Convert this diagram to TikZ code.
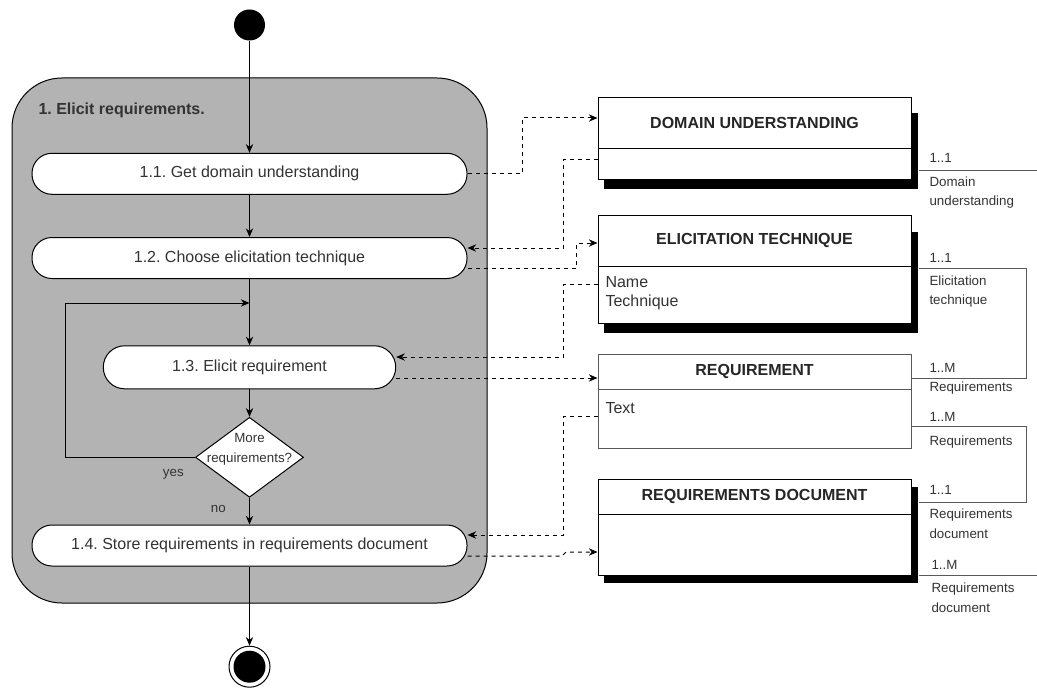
\documentclass[tikz,border=0pt]{standalone}
\usepackage{fontspec}
\setmainfont{Liberation Sans}
\usetikzlibrary{arrows.meta, shapes.geometric}
\definecolor{grpfill}{HTML}{B3B3B3}
\definecolor{txt}{HTML}{333333}
\frenchspacing

\begin{document}
\begin{tikzpicture}[x=0.75pt, y=-0.75pt, line width=0.75pt,
    act/.style={draw, fill=white, rounded corners=15pt, minimum width=326.25pt,
      minimum height=30.75pt, inner sep=0, font=\fontsize{12}{14}\selectfont, text=txt},
    hdr/.style={draw, fill=white, minimum width=234.75pt, inner sep=0,
      font=\bfseries\fontsize{12}{14}\selectfont, text=black!85},
    bdy/.style={draw, fill=white, minimum width=234.75pt, inner sep=0},
    shd/.style={fill=black, minimum width=235.5pt, inner sep=0},
    attr/.style={font=\fontsize{12}{13.7}\selectfont, text=txt, align=left, anchor=west, inner sep=0},
    lbl/.style={font=\fontsize{10}{14.6}\selectfont, text=txt, align=left, anchor=west, inner sep=0},
    flow/.style={-{Stealth[length=6.5pt,width=5.5pt]}},
    dep/.style={-{Stealth[length=6.5pt,width=5.5pt]}, dash pattern=on 3pt off 3pt},
    assoc/.style={draw=black!65}]
\useasboundingbox (0,0) rectangle (1037,688);

% activity
\node[draw, fill=grpfill, rounded corners=37.5pt, minimum width=356.25pt,
  minimum height=393.75pt] (grp) at (249.5,340.5) {};
\node[font=\bfseries\fontsize{12}{14}\selectfont, text=txt, anchor=west, inner sep=0]
  (grptitle) at (38,110) {1. Elicit requirements.};
\node[circle, fill=black, minimum size=23.25pt, inner sep=0] (start) at (249.5,25) {};
\node[act] (a11) at (249.5,173.8) {1.1. Get domain understanding};
\node[act] (a12) at (249.5,258) {1.2. Choose elicitation technique};
\node[act, minimum width=219.3pt, minimum height=32.25pt, rounded corners=16pt]
  (a13) at (249.5,367.3) {1.3. Elicit requirement};
\node[draw, fill=white, diamond, aspect=1.35, minimum width=81pt, minimum height=60pt,
  inner sep=0] (dec) at (249.5,457.3) {};
\node[lbl, anchor=center, align=center] (dectxt) at (249.5,449.5) {More\\requirements?};
\node[act] (a14) at (249.5,545.5) {1.4. Store requirements in requirements document};
\node[circle, draw, fill=white, minimum size=30.75pt, inner sep=0] (stop) at (249.5,666.7) {};
\node[circle, fill=black, minimum size=24pt, inner sep=0] (stopdot) at (stop) {};
\node[lbl, anchor=center] (yes) at (173.3,474) {yes};
\node[lbl, anchor=center] (no) at (218.3,509.3) {no};

\draw[flow] (start) -- (a11);
\draw[flow] (a11) -- (a12);
\draw[flow] (a12) -- (a13);
\draw[flow] (a13) -- (dec);
\draw[flow] (dec) -- (a14);
\draw[flow] (a14) -- (stop);
\coordinate (merge) at (a13.north |- 0,303);
\draw[flow] (dec.west) -| (65,303) -- (merge);

% classes
\node[shd, minimum height=57pt] (dus) at (761,151) {};
\node[hdr, minimum height=37.5pt] (duh) at (754.5,123) {DOMAIN UNDERSTANDING};
\node[bdy, minimum height=23.25pt] (dub) at (754.5,163.5) {};

\node[shd, minimum height=75.75pt] (ets) at (761,282.5) {};
\node[hdr, minimum height=38.25pt] (eth) at (754.5,240.5) {ELICITATION TECHNIQUE};
\node[bdy, minimum height=42.75pt] (etb) at (754.5,294.5) {};
\node[attr] (etattr) at (605,293.2) {Name\\Technique};

\node[hdr, draw=black!65, minimum height=26.25pt] (reqh) at (754.5,371.5) {REQUIREMENT};
\node[bdy, draw=black!65, minimum height=44.25pt] (reqb) at (754.5,418.5) {};
\node[attr] (reqattr) at (605,408.3) {Text};

\node[shd, minimum height=72pt] (rds) at (761,535) {};
\node[hdr, minimum height=26.25pt] (rdh) at (754.5,496.5) {REQUIREMENTS DOCUMENT};
\node[bdy, minimum height=45.75pt] (rdb) at (754.5,544.5) {};

% data flows
\draw[dep] (a11.east) -| (522,118) -- (duh.west |- 0,118);
\draw[dep] (dub.west |- 0,159) -| (563,248) -- (a12.east |- 0,248);
\draw[dep] (a12.east |- 0,268) -| (576,243) -- (eth.west |- 0,243);
\draw[dep] (etb.west |- 0,284) -| (563,357) -- (a13.east |- 0,357);
\draw[dep] (a13.east |- 0,378) -- (reqh.west |- 0,378);
\draw[dep] (reqb.west |- 0,416) -| (563,535) -- (a14.east |- 0,535);
\draw[dep] (a14.east |- 0,556) -- (562,556) -- (566,552) -- (rdb.west |- 0,552);

% associations
\coordinate (duend) at (1037,170);
\coordinate (rdend) at (1037,575);
\draw[assoc] (dus.east |- 0,170) -- (duend);
\draw[assoc] (ets.east |- 0,268) -| (1026,378) -- (reqh.east |- 0,378);
\draw[assoc] (reqb.east |- 0,426) -| (1026,502) -- (rds.east |- 0,502);
\draw[assoc] (rds.east |- 0,575) -- (rdend);

\node[lbl] (m1) at (929,158) {1..1};
\node[lbl] (r1) at (929,192.5) {Domain\\understanding};
\node[lbl] (m2) at (929,258.3) {1..1};
\node[lbl] (r2) at (929,291.7) {Elicitation\\technique};
\node[lbl] (m3) at (929,368.3) {1..M};
\node[lbl] (r3) at (929,387.7) {Requirements};
\node[lbl] (m4) at (929,416.7) {1..M};
\node[lbl] (r4) at (929,441.7) {Requirements};
\node[lbl] (m5) at (929,490) {1..1};
\node[lbl] (r5) at (929,523.7) {Requirements\\document};
\node[lbl] (m6) at (931,565) {1..M};
\node[lbl] (r6) at (931,597.5) {Requirements\\document};
\end{tikzpicture}
\end{document}
